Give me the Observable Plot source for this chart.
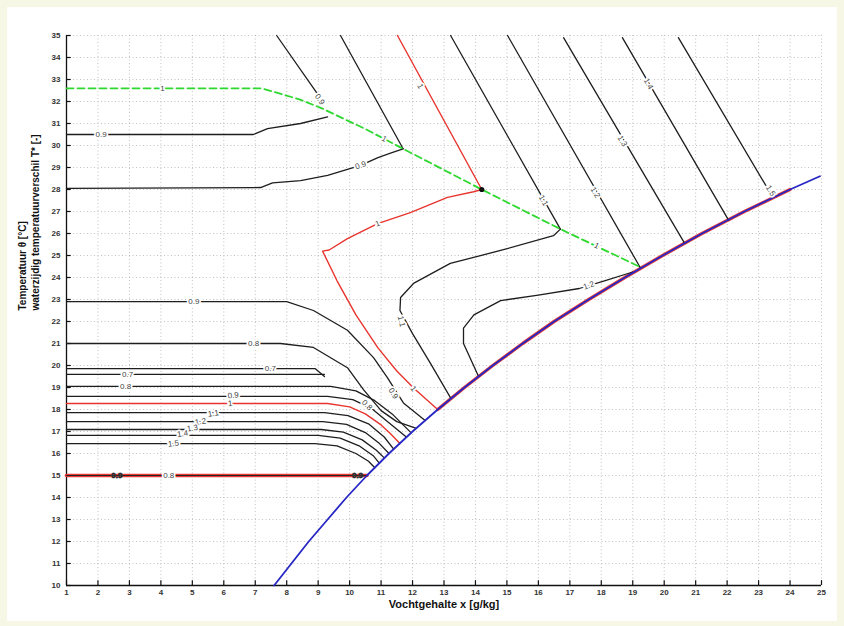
<!DOCTYPE html>
<html><head><meta charset="utf-8">
<script src="https://cdn.jsdelivr.net/npm/d3@7"></script>
<script src="https://cdn.jsdelivr.net/npm/@observablehq/plot@0.6"></script>
<style>
body{margin:0;background:#f6f7e4;font-family:"Liberation Sans",Arial,sans-serif;}
#wrap{position:relative;width:844px;height:626px;}
#chart{position:absolute;left:7px;top:7px;background:#fff;}
</style></head>
<body><div id="wrap"><div id="chart"></div></div>
<script>
// ---- tick labels ----
const xTicks = [1,2,3,4,5,6,7,8,9,10,11,12,13,14,15,16,17,18,19,20,21,22,23,24,25];
const yTicks = [10,11,12,13,14,15,16,17,18,19,20,21,22,23,24,25,26,27,28,29,30,31,32,33,34,35];

// ---- saturation curve (x g/kg, T degC) ----
const saturation = [[7.6,10],[8.15,11],[8.7,12],[9.3,13],[9.9,14],[10.55,15],[11.25,16],[12.0,17],[12.8,18],[13.65,19],[14.55,20],[15.5,21],[16.5,22],[17.6,23],[18.75,24],[19.95,25],[21.2,26],[22.55,27],[24.0,28],[24.95,28.6]];
const redAlongSaturation = [[12.8,18],[13.65,19],[14.55,20],[15.5,21],[16.5,22],[17.6,23],[18.75,24],[19.95,25],[21.2,26],[22.55,27],[24.0,28]];

// ---- green dashed boundary (level 1) ----
const greenBoundary = [[1,32.6],[7.2,32.6],[8.4,32.1],[9.1,31.7],[10.5,30.75],[11.7,29.85],[14.2,28.0],[16.7,26.2],[19.2,24.5]];

// ---- black contours ----
const c09top = [[7.68,35],[8.95,32.4]];
const c09upper = [[1,30.5],[6.94,30.5],[7.39,30.77],[8.44,31.0],[9.3,31.3]];
const c09mid = [[1,28.05],[7.17,28.09],[7.55,28.3],[8.44,28.4],[9.3,28.64],[10.35,29.1],[10.9,29.45],[11.3,29.65],[11.7,29.85]];
const c10top = [[9.71,35],[11.7,29.85]];
const c11top = [[13.21,35],[16.7,26.2]];
const c12top = [[15.02,35],[19.25,24.42]];
const c13top = [[16.8,34.9],[20.65,25.55]];
const c14top = [[18.67,34.9],[22.05,26.6]];
const c15top = [[20.45,34.9],[23.45,27.65]];
const c11low = [[16.7,26.2],[16.48,25.9],[14.8,25.23],[13.2,24.64],[12.03,23.73],[11.62,23.09],[11.6,22.5],[12.0,21.45],[12.57,20.1],[13.2,18.55]];
const c12low = [[19.0,24.25],[18.1,23.85],[17.3,23.5],[16.0,23.2],[14.8,22.95],[13.95,22.3],[13.62,21.7],[13.62,21.0],[14.1,19.5]];
const c09low = [[1,22.9],[8.0,22.9],[8.85,22.5],[9.93,21.6],[10.76,20.36],[11.2,19.45],[11.71,18.3],[12.4,17.5]];
const c08low = [[1,21.0],[7.8,21.0],[8.85,20.82],[9.93,19.9],[10.44,18.9],[11.0,17.95],[11.5,17.45],[12.1,17.15]];
const c07a = [[1,19.86],[8.9,19.86],[9.2,19.5]];
const c07b = [[1,19.6],[9.2,19.6]];
const c08b = [[1,19.05],[9.4,19.05],[10.2,18.85],[10.8,18.4],[11.35,17.8],[11.7,17.3],[11.95,16.95]];
const c09b = [[1,18.6],[9.3,18.6],[10.1,18.45],[10.7,18.05],[11.2,17.45],[11.55,17.05],[11.8,16.75]];
const c11b = [[1,17.86],[9.2,17.86],[9.95,17.72],[10.6,17.35],[11.1,16.75],[11.4,16.2]];
const c12b = [[1,17.45],[9.15,17.45],[9.9,17.32],[10.5,16.95],[10.95,16.45],[11.25,16.0]];
const c13b = [[1,17.09],[9.1,17.09],[9.8,16.97],[10.4,16.62],[10.85,16.15],[11.1,15.8]];
const c14b = [[1,16.82],[9.0,16.82],[9.7,16.7],[10.3,16.35],[10.75,15.9],[10.95,15.55]];
const c15b = [[1,16.45],[8.9,16.45],[9.6,16.35],[10.2,16.0],[10.6,15.65],[10.8,15.35]];
const c15line = [[1,15.0],[10.55,15.0]];

// ---- red contours (level 1) ----
const r1top = [[11.52,35],[14.2,28.0]];
const r1loop = [[14.2,28.0],[13.94,27.9],[13.11,27.64],[11.93,26.95],[10.89,26.45],[9.93,25.77],[9.35,25.25],[9.14,25.2],[9.6,23.85],[10.2,22.3],[10.9,20.8],[11.5,19.75],[12.05,18.95],[12.8,18.0]];
const r1low = [[1,18.27],[9.3,18.27],[10.0,18.12],[10.5,17.8],[11.0,17.3],[11.3,16.9],[11.6,16.45]];
const r15 = [[1,15.0],[10.55,15.0]];

// ---- contour labels ----
const labelText = ["1","0.9","0.9","0.9","1","1","1","1","1.1","1.2","1.3","1.4","1.5","1.1","1.2","0.9","0.8","0.7","0.7","0.8","0.9","1","1.1","1.2","1.3","1.4","1.5","0.8","0.9","0.8","1"];
const labelX =    [4.05, 9.05, 2.1, 10.35, 11.1, 17.85, 12.25, 10.89, 16.16, 17.81, 18.67, 19.5, 23.38, 11.65, 17.6, 5.05, 6.95, 7.48, 2.94, 2.88, 6.3, 6.2, 5.67, 5.26, 5.0, 4.69, 4.4, 4.25, 11.39, 10.55, 12.03];
const labelY =    [32.6, 32.1, 30.5, 29.1, 30.3, 25.45, 32.7, 26.45, 27.5, 27.86, 30.2, 32.8, 27.95, 22.0, 23.64, 22.9, 21.0, 19.86, 19.6, 19.05, 18.64, 18.27, 17.82, 17.45, 17.15, 16.9, 16.45, 15.0, 18.73, 18.2, 18.95];
const labelRot =  [0, 55, 0, -20, 30, 26, 61, -22, 60, 60, 60, 60, 58, 78, -21, 0, 0, 0, 0, 0, -6, -6, -8, -8, -8, -8, -6, 0, 58, 45, 52];
// clustered labels on the 15 degC line
const clusterX = [2.6, 10.25];
const clusterY = [15.0, 15.0];

// ---- build tables ----
const toRows = (id, pts) => pts.map(([x, y]) => ({id, x, y}));
const blackRows = [
  ["c09top",c09top],["c09upper",c09upper],["c09mid",c09mid],["c10top",c10top],["c11top",c11top],["c12top",c12top],
  ["c13top",c13top],["c14top",c14top],["c15top",c15top],["c11low",c11low],["c12low",c12low],["c09low",c09low],
  ["c08low",c08low],["c07a",c07a],["c07b",c07b],["c08b",c08b],["c09b",c09b],["c11b",c11b],["c12b",c12b],
  ["c13b",c13b],["c14b",c14b],["c15b",c15b]
].flatMap(([id, p]) => toRows(id, p));
const redRows = [["r1top",r1top],["r1loop",r1loop],["r1low",r1low]].flatMap(([id, p]) => toRows(id, p));
const labels = labelText.map((t, i) => ({t, x: labelX[i], y: labelY[i], r: labelRot[i]}));
const clusters = clusterX.map((x, i) => ({x, y: clusterY[i]}));

const font = '"Liberation Sans", Arial, sans-serif';
const chart = Plot.plot({
  width: 830, height: 614,
  marginLeft: 59, marginRight: 16, marginTop: 28, marginBottom: 36,
  style: {fontFamily: font, background: "#fff", overflow: "visible"},
  x: {domain: [1, 25], label: null},
  y: {domain: [10, 35], label: null},
  marks: [
    Plot.gridX(xTicks, {stroke: "#9a9a9a", strokeOpacity: 0.6, strokeDasharray: "1,2.5"}),
    Plot.gridY(yTicks, {stroke: "#9a9a9a", strokeOpacity: 0.6, strokeDasharray: "1,2.5"}),
    Plot.axisX(xTicks, {tickSize: 0, tickPadding: 4, fontSize: 8, fill: "#333", fontWeight: "bold", label: null}),
    Plot.axisY(yTicks, {tickSize: 0, tickPadding: 6, fontSize: 8, fill: "#333", fontWeight: "bold", label: null}),
    Plot.ruleX(xTicks, {y1: 10, y2: 10.22, stroke: "#111", strokeWidth: 1.2}),
    Plot.ruleY(yTicks, {x1: 1, x2: 1.15, stroke: "#111", strokeWidth: 1.2}),
    Plot.ruleX([1], {stroke: "#111", strokeWidth: 1.3}),
    Plot.ruleY([10], {stroke: "#111", strokeWidth: 1.3}),
    // contours
    Plot.line(redAlongSaturation.map(([x, y]) => ({x, y})), {x: "x", y: "y", stroke: "#e8403a", strokeWidth: 3.4}),
    Plot.line(r15.map(([x, y]) => ({x, y})), {x: "x", y: "y", stroke: "#e83a34", strokeWidth: 3.6}),
    Plot.line(c15line.map(([x, y]) => ({x, y})), {x: "x", y: "y", stroke: "#222", strokeWidth: 1}),
    Plot.line(blackRows, {x: "x", y: "y", z: "id", stroke: "#1e1e1e", strokeWidth: 1.3, curve: "linear"}),
    Plot.line(redRows, {x: "x", y: "y", z: "id", stroke: "#e8342e", strokeWidth: 1.4}),
    Plot.line(greenBoundary.map(([x, y]) => ({x, y})), {x: "x", y: "y", stroke: "#2ed82e", strokeWidth: 1.8, strokeDasharray: "7,4"}),
    Plot.line(saturation.map(([x, y]) => ({x, y})), {x: "x", y: "y", stroke: "#2626c4", strokeWidth: 1.8}),
    Plot.dot([[14.2, 28.0]], {x: d => d[0], y: d => d[1], r: 2.6, fill: "#111"}),
    // labels
    Plot.text(labels, {x: "x", y: "y", text: "t", rotate: "r", fontSize: 8, fill: "#444", stroke: "#fff", strokeWidth: 3.5, paintOrder: "stroke", fontFamily: font}),
    Plot.text(clusters, {x: "x", y: "y", text: () => "0.9", fontSize: 8, fontWeight: "bold", fill: "#222", stroke: "#555", strokeWidth: 0.8}),
    // axis titles
    Plot.text(["Vochtgehalte x [g/kg]"], {frameAnchor: "bottom", dy: 22, fontSize: 11, fontWeight: "bold", fill: "#111", fontFamily: font}),
    Plot.text(["Temperatuur \u03b8 [\u00b0C]"], {frameAnchor: "left", dx: -44, rotate: -90, fontSize: 10, fontWeight: "bold", fill: "#111", fontFamily: font}),
    Plot.text(["waterzijdig temperatuurverschil T* [-]"], {frameAnchor: "left", dx: -31, rotate: -90, fontSize: 10, fontWeight: "bold", fill: "#111", fontFamily: font})
  ]
});
document.getElementById("chart").appendChild(chart);
</script>
</body></html>
